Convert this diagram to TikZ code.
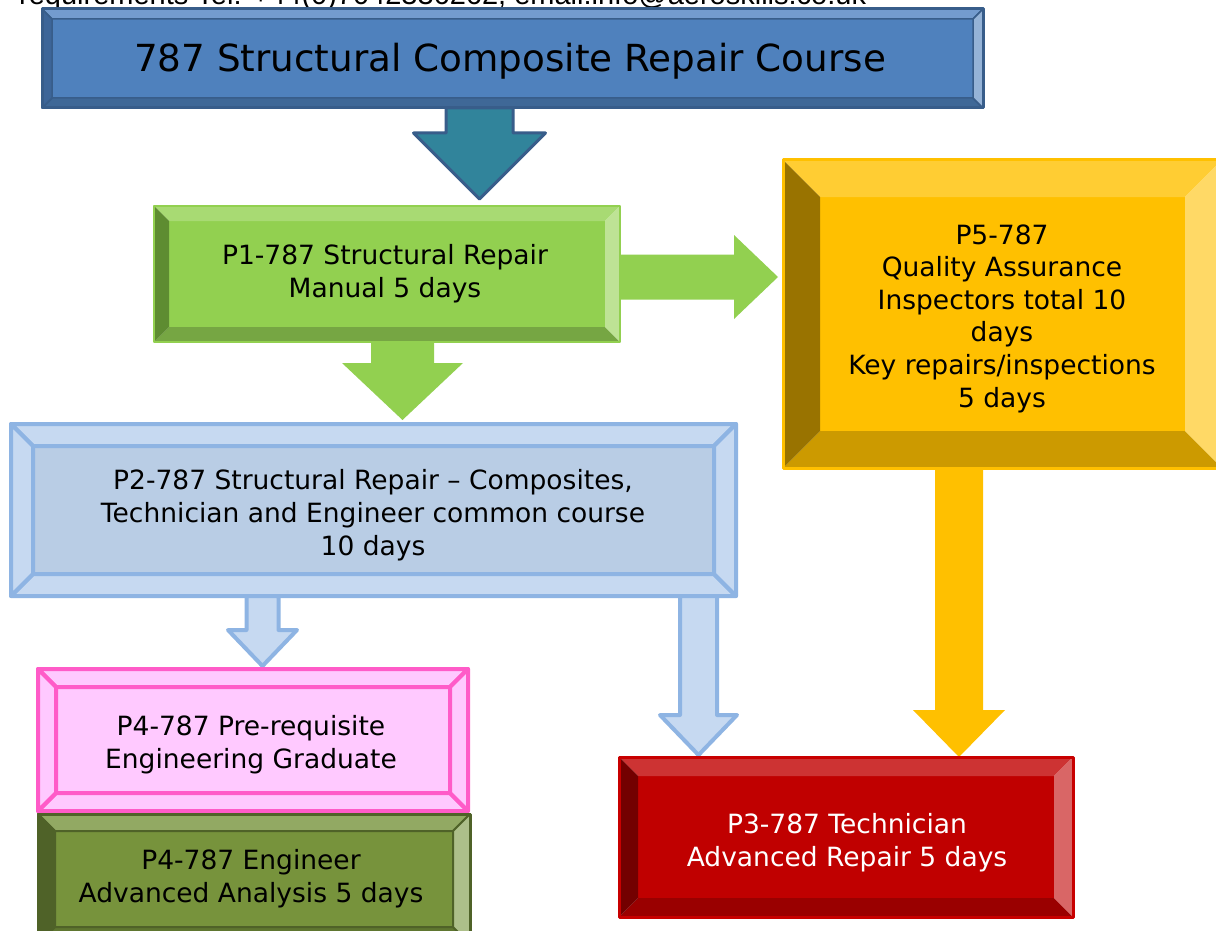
\documentclass[tikz,border=0pt]{standalone}
\usepackage{fontspec}
\setmainfont{DejaVu Sans}
\newfontfamily\arialf{Liberation Sans}
\usetikzlibrary{calc}

\definecolor{tiFill}{HTML}{4F81BD}
\definecolor{tiTop}{HTML}{739BCE}
\definecolor{tiLeft}{HTML}{3D6598}
\definecolor{tiBot}{HTML}{3F6897}
\definecolor{tiRight}{HTML}{95B3D7}
\definecolor{tiLine}{HTML}{385D8A}
\definecolor{teal1}{HTML}{31849B}

\definecolor{grFill}{HTML}{92D050}
\definecolor{grTop}{HTML}{A8DA73}
\definecolor{grLeft}{HTML}{5E8C31}
\definecolor{grBot}{HTML}{76A643}
\definecolor{grRight}{HTML}{BEE395}
\definecolor{grLine}{HTML}{92D050}

\definecolor{blFill}{HTML}{B9CDE5}
\definecolor{blTop}{HTML}{C6D9F1}
\definecolor{blLeft}{HTML}{C6D9F1}
\definecolor{blBot}{HTML}{C6D9F1}
\definecolor{blRight}{HTML}{C6D9F1}
\definecolor{blLine}{HTML}{8EB4E3}

\definecolor{goFill}{HTML}{FFC000}
\definecolor{goTop}{HTML}{FFCD33}
\definecolor{goLeft}{HTML}{997300}
\definecolor{goBot}{HTML}{CC9A00}
\definecolor{goRight}{HTML}{FFD966}
\definecolor{goLine}{HTML}{FFC000}

\definecolor{piFill}{HTML}{FFC9FF}
\definecolor{piTop}{HTML}{FFC9FF}
\definecolor{piLeft}{HTML}{FFC9FF}
\definecolor{piBot}{HTML}{FFC9FF}
\definecolor{piRight}{HTML}{FFC9FF}
\definecolor{piLine}{HTML}{FF5BC8}

\definecolor{olFill}{HTML}{77933C}
\definecolor{olTop}{HTML}{92A963}
\definecolor{olLeft}{HTML}{4F6228}
\definecolor{olBot}{HTML}{5F7630}
\definecolor{olRight}{HTML}{ADBF8A}
\definecolor{olLine}{HTML}{4F6228}

\definecolor{reFill}{HTML}{C00000}
\definecolor{reTop}{HTML}{CD3333}
\definecolor{reLeft}{HTML}{730000}
\definecolor{reBot}{HTML}{9A0000}
\definecolor{reRight}{HTML}{D96666}
\definecolor{reLine}{HTML}{C80000}

% #1 name, #2 x1, #3 y1, #4 x2, #5 y2, #6 bevel, #7 colour prefix, #8 inner line options, #9 outer line options
\newcommand\bevbox[9]{%
  \path (#2,#3) coordinate (#1NW) (#4,#3) coordinate (#1NE)
        (#4,#5) coordinate (#1SE) (#2,#5) coordinate (#1SW)
        ($(#2,#3)+(#6,#6)$) coordinate (#1nw) ($(#4,#3)+(-#6,#6)$) coordinate (#1ne)
        ($(#4,#5)+(-#6,-#6)$) coordinate (#1se) ($(#2,#5)+(#6,-#6)$) coordinate (#1sw);
  \fill[#7Fill] (#1nw) rectangle (#1se);
  \path[fill=#7Top,#8] (#1NW) -- (#1NE) -- (#1ne) -- (#1nw) -- cycle;
  \path[fill=#7Bot,#8] (#1SW) -- (#1SE) -- (#1se) -- (#1sw) -- cycle;
  \path[fill=#7Left,#8] (#1NW) -- (#1nw) -- (#1sw) -- (#1SW) -- cycle;
  \path[fill=#7Right,#8] (#1NE) -- (#1ne) -- (#1se) -- (#1SE) -- cycle;
  \draw[#7Line,#9] (#1NW) rectangle (#1SE);
}
% down arrow: #1 shaft top centre, #2 tip, #3 half shaft, #4 half head, #5 head length, #6 style
\newcommand\downarr[6]{%
  \path[#6] ($(#1)+(-#3,0)$) -- ($(#2)+(-#3,-#5)$) -- ($(#2)+(-#4,-#5)$) -- (#2)
    -- ($(#2)+(#4,-#5)$) -- ($(#2)+(#3,-#5)$) -- ($(#1)+(#3,0)$) -- cycle;
}
% right arrow
\newcommand\rightarr[6]{%
  \path[#6] ($(#1)+(0,-#3)$) -- ($(#2)+(-#5,-#3)$) -- ($(#2)+(-#5,-#4)$) -- (#2)
    -- ($(#2)+(-#5,#4)$) -- ($(#2)+(-#5,#3)$) -- ($(#1)+(0,#3)$) -- cycle;
}

\tikzset{
  txt/.style={align=center, inner sep=0pt, font=\fontsize{26.5}{33}\selectfont},
}

\begin{document}
\begin{tikzpicture}[x=1pt,y=-1pt,line join=round]
\useasboundingbox (0,0) rectangle (1216,931);
\fill[white] (0,0) rectangle (1216,931);
\clip (0,0) rectangle (1216,931);

% header (cut off)
\node[anchor=base west, inner sep=0pt] (hdr) at (19,5)
  {\arialf\fontsize{29}{34}\selectfont requirements Tel: +44(0)7042336262, email:info@aeroskills.co.uk};

% title
\bevbox{ti}{42}{9}{983}{108}{10}{ti}{draw=tiLine,line width=1.5pt}{line width=3pt}
\node[txt, font=\fontsize{37.3}{44}\selectfont] (title) at (510,61) {787 Structural Composite Repair Course};

% arrow title -> P1
\coordinate (a1s) at (479.5,108);
\coordinate (a1e) at (479.5,199);
\downarr{a1s}{a1e}{33.5}{66}{66}{fill=teal1,draw=tiLine,line width=3pt}

% P1
\bevbox{pa}{154}{206}{620}{342}{15}{gr}{draw=none}{line width=2pt}
\node[txt] (p1) at (385,273.5) {P1-787 Structural Repair\\Manual 5 days};

% green arrows
\coordinate (a2s) at (621,277);
\coordinate (a2e) at (778,277);
\rightarr{a2s}{a2e}{22.5}{42}{44}{fill=grFill}
\coordinate (a3s) at (402.5,343);
\coordinate (a3e) at (402.5,420);
\downarr{a3s}{a3e}{31.5}{60.5}{57}{fill=grFill}

% P5
\bevbox{pe}{783}{160}{1222}{468}{37}{go}{draw=none}{line width=3pt}
\node[txt, font=\fontsize{26.5}{32.6}\selectfont] (p5) at (1002,318.5)
  {P5-787\\Quality Assurance\\Inspectors total 10\\days\\Key repairs/inspections\\5 days};

% P2
\bevbox{pb}{11}{424}{736}{596}{22}{bl}{draw=blLine,line width=4pt}{line width=4pt}
\node[txt] (p2) at (373,515.5)
  {P2-787 Structural Repair -- Composites,\\Technician and Engineer common course\\10 days};

% blue arrows and gold arrow
\coordinate (a4s) at (262.5,596);
\coordinate (a4e) at (262.5,666);
\downarr{a4s}{a4e}{16}{34.5}{36}{fill=blTop,draw=blLine,line width=4pt}
\coordinate (a5s) at (698.5,596);
\coordinate (a5e) at (698.5,755);
\downarr{a5s}{a5e}{18.5}{38.5}{40}{fill=blTop,draw=blLine,line width=4pt}
\coordinate (a6s) at (959,468);
\coordinate (a6e) at (959,757);
\downarr{a6s}{a6e}{24}{46}{47}{fill=goFill}

% P4 pink
\bevbox{pd}{38}{669}{468}{811}{18}{pi}{draw=piLine,line width=4pt}{line width=4pt}
\node[txt] (p4a) at (251,745) {P4-787 Pre-requisite\\Engineering Graduate};

% P4 olive
\bevbox{pf}{38}{814}{470}{944}{17}{ol}{draw=olLine,line width=2pt}{line width=3pt}
\node[txt] (p4b) at (251,879) {P4-787 Engineer\\Advanced Analysis 5 days};

% P3 red
\bevbox{pc}{619}{757}{1073}{917}{19}{re}{draw=none}{line width=3pt}
\node[txt, text=white] (p3) at (847,842.5) {P3-787 Technician\\Advanced Repair 5 days};
\end{tikzpicture}
\end{document}
